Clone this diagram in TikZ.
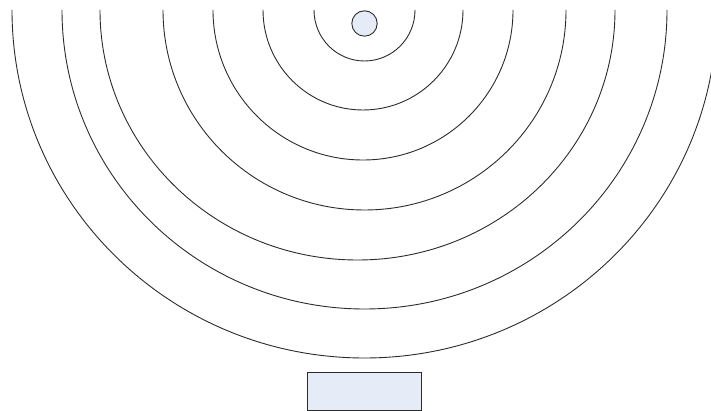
\documentclass[tikz,border=0pt]{standalone}
\usepackage{xcolor}
\definecolor{shapefill}{HTML}{E6ECF7}
\definecolor{shapeline}{HTML}{2B2B2B}
\tikzset{
  wave/.style={draw=shapeline, line width=0.9pt},
  source/.style={circle, draw=shapeline, fill=shapefill, line width=0.9pt, minimum size=25.4pt, inner sep=0pt},
  receiver/.style={rectangle, draw=shapeline, fill=shapefill, line width=0.9pt, minimum width=114pt, minimum height=38pt, inner sep=0pt}
}
\begin{document}
\begin{tikzpicture}[x=1pt,y=1pt]
\useasboundingbox (0,0) rectangle (711,411);
\clip (0,0) rectangle (711,411);
\foreach \cx/\a/\b in {364.5/50.5/51, 363/100/100, 363/150/150, 364.5/201.5/200, 357.5/257.5/250, 364.5/302.5/299, 364.5/352.5/348}{
  \draw[wave] (\cx-\a,401) arc[start angle=180, end angle=360, x radius=\a, y radius=\b];
}
\node[source] (src) at (364.5,387.5) {};
\node[receiver] (rcv) at (364,20) {};
\end{tikzpicture}
\end{document}
